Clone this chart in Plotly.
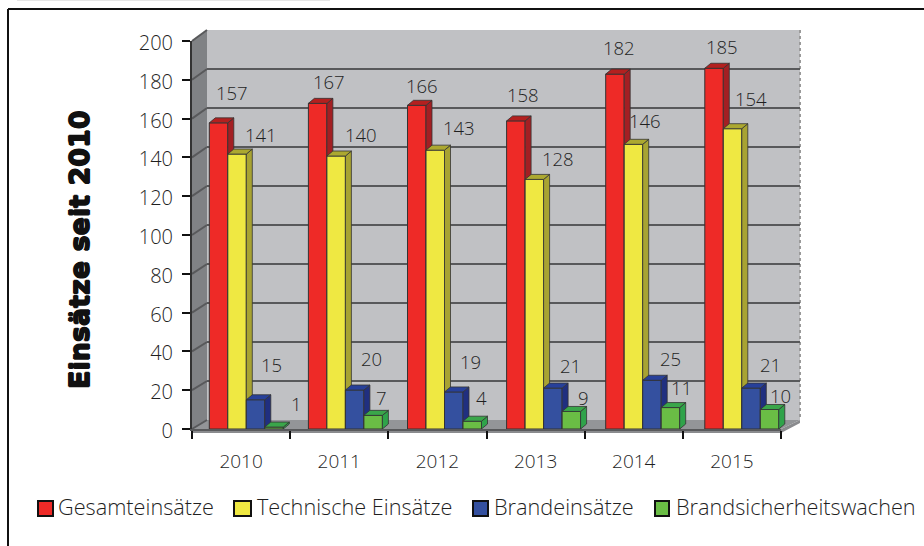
import plotly.graph_objects as go

YEARS = [2010, 2011, 2012, 2013, 2014, 2015]
SERIES = ["Gesamteinsätze", "Technische Einsätze", "Brandeinsätze", "Brandsicherheitswachen"]
GESAMT = [157, 167, 166, 158, 182, 185]
TECHNISCH = [141, 140, 143, 128, 146, 154]
BRAND = [15, 20, 19, 21, 25, 21]
WACHEN = [1, 7, 4, 9, 11, 10]
VALUES = [GESAMT, TECHNISCH, BRAND, WACHEN]
Y_TICKS = list(range(0, 201, 20))

W, H = 924, 546
FRONT = ["#ee2a27", "#efe842", "#34509f", "#6abd45"]
SIDE = ["#a31f23", "#a8a332", "#202f80", "#2fa34a"]
TOP = ["#b3201f", "#aca830", "#27409a", "#3aa64a"]
EDGE = "#333333"
TEXT = "#1f1f1f"
FONT = "Open Sans"
WEIGHT = 300

# label nudges (px right, px up) relative to the top centre of each bar
NUDGE = [
    [(13, 30), (11, 22), (5, 20), (7, 26), (4, 27), (8, 22)],
    [(24, 20), (25, 22), (24, 23), (24, 21), (12, 24), (18, 30)],
    [(16, 35), (17, 32), (17, 30), (18, 23), (19, 22), (19, 24)],
    [(22, 24), (8, 18), (9, 24), (12, 14), (11, 20), (11, 14)],
]
# legend layout: swatch left, swatch right, text left (px)
LEG = [(38, 53, 56), (234, 251, 255), (473, 488, 492), (655, 669, 674)]


def fx(p):
    return p / W


def fy(p):
    return 1 - p / H


# Pixel frames of the three planes
FRONT_X, FRONT_TOP, FRONT_BOTTOM, FRONT_RIGHT = 192, 41, 429, 781
BACK_X, BACK_TOP, BACK_BOTTOM, BACK_RIGHT = 207, 30, 420, 800
BAR_X0, BAR_X1, BAR_TOP, BAR_BOTTOM = 196.75, 791.35, 39, 429
BAR_W = 18.5 / 99.1
DX = 6 / 99.1
DY = 5 / 1.95

fig = go.Figure()

# Back wall subplot carrying the gridlines
fig.add_trace(go.Scatter(x=[], y=[], xaxis="x", yaxis="y", showlegend=False))

layout_axes = {
    "xaxis": dict(domain=[fx(BACK_X), fx(BACK_RIGHT)], range=[2009.5, 2015.5], visible=False, anchor="y", automargin=False),
    "yaxis": dict(domain=[fy(BACK_BOTTOM), fy(BACK_TOP)], range=[0, 200], anchor="x", tickvals=Y_TICKS,
                  showgrid=True, gridcolor="#58595b", gridwidth=2, showticklabels=False, ticks="",
                  zeroline=False, showline=False, automargin=False),
}

for i, vals in enumerate(VALUES):
    n = i + 2
    xa, ya = f"x{n}", f"y{n}"
    off = -2 * BAR_W + i * BAR_W
    fig.add_trace(go.Bar(x=YEARS, y=vals, width=BAR_W, offset=off, xaxis=xa, yaxis=ya, showlegend=False,
                         name=SERIES[i], marker=dict(color=FRONT[i], line=dict(color=EDGE, width=1))))
    sx, sy, tx, ty = [], [], [], []
    for yr, v in zip(YEARS, vals):
        l = yr + off
        r = l + BAR_W
        sx += [r, r + DX, r + DX, r, r, None]
        sy += [0, DY, v + DY, v, 0, None]
        tx += [l, l + DX, r + DX, r, l, None]
        ty += [v, v + DY, v + DY, v, v, None]
    for px_, py_, col in ((sx, sy, SIDE[i]), (tx, ty, TOP[i])):
        fig.add_trace(go.Scatter(x=px_, y=py_, mode="lines", fill="toself", fillcolor=col, xaxis=xa, yaxis=ya,
                                 line=dict(color=EDGE, width=0.8), showlegend=False, hoverinfo="skip",
                                 cliponaxis=False))
    layout_axes[f"xaxis{n}"] = dict(domain=[fx(BAR_X0), fx(BAR_X1)], range=[2009.5, 2015.5], visible=False, anchor=ya, automargin=False)
    layout_axes[f"yaxis{n}"] = dict(domain=[fy(BAR_BOTTOM), fy(BAR_TOP)], range=[0, 200], visible=False, anchor=xa, automargin=False)

# Front axes with ticks and labels
fig.add_trace(go.Scatter(x=[], y=[], xaxis="x6", yaxis="y6", showlegend=False))
layout_axes["xaxis6"] = dict(
    domain=[fx(FRONT_X), fx(FRONT_RIGHT)], range=[2009.5, 2015.5], anchor="y6", tick0=2010, dtick=1, tickformat="d",
    ticks="outside", ticklen=14, tickcolor="rgba(0,0,0,0)", tickwidth=1, showgrid=False, zeroline=False, automargin=False,
    showline=True, linecolor="#58595b", linewidth=2, tickfont=dict(family=FONT, size=19, color=TEXT, weight=WEIGHT),
    minor=dict(tick0=2009.5, dtick=1, ticks="outside", ticklen=8, tickwidth=2, tickcolor="#111111", showgrid=False),
)
layout_axes["yaxis6"] = dict(
    domain=[fy(FRONT_BOTTOM), fy(FRONT_TOP)], range=[0, 200], anchor="x6", tickvals=Y_TICKS, ticks="outside",
    ticklen=8, tickwidth=2, tickcolor="#111111", showgrid=False, zeroline=False, showline=True, automargin=False,
    linecolor="#333333", linewidth=2, ticklabelstandoff=5, ticklabelshift=2,
    tickfont=dict(family=FONT, size=20, color=TEXT, weight=WEIGHT),
)

# Static 3D box planes and frame
shapes = []


def poly(pts, fill, line=None, lw=0, layer="below"):
    path = "M" + " L".join(f"{fx(a):.5f},{fy(b):.5f}" for a, b in pts) + " Z"
    shapes.append(dict(type="path", path=path, xref="paper", yref="paper", fillcolor=fill, layer=layer,
                       line=dict(color=line or "rgba(0,0,0,0)", width=lw)))


def seg(a, b, c, d, color, width, dash="solid"):
    shapes.append(dict(type="line", x0=fx(a), y0=fy(b), x1=fx(c), y1=fy(d), xref="paper", yref="paper",
                       line=dict(color=color, width=width, dash=dash), layer="below"))


poly([(BACK_X, BACK_TOP), (BACK_RIGHT, BACK_TOP), (BACK_RIGHT, BACK_BOTTOM), (BACK_X, BACK_BOTTOM)], "#c0c1c4")
poly([(FRONT_X, FRONT_TOP), (BACK_X, BACK_TOP), (BACK_X, BACK_BOTTOM), (FRONT_X, FRONT_BOTTOM)], "#808285")
poly([(FRONT_X, FRONT_BOTTOM), (BACK_X, BACK_BOTTOM), (BACK_RIGHT, BACK_BOTTOM), (FRONT_RIGHT, FRONT_BOTTOM)], "#939598")
poly([(FRONT_X, FRONT_BOTTOM), (FRONT_RIGHT, FRONT_BOTTOM), (BACK_RIGHT, BACK_BOTTOM), (BACK_RIGHT, BACK_BOTTOM + 3),
      (FRONT_RIGHT, FRONT_BOTTOM + 4), (FRONT_X, FRONT_BOTTOM + 4)], "#8a8b8e")
for t in Y_TICKS:
    yf = FRONT_BOTTOM - (FRONT_BOTTOM - FRONT_TOP) * t / 200
    yb = BACK_BOTTOM - (BACK_BOTTOM - BACK_TOP) * t / 200
    seg(FRONT_X, yf, BACK_X, yb, "#58595b", 2)
seg(BACK_RIGHT, BACK_TOP, BACK_RIGHT, BACK_BOTTOM, "#9a9a9a", 2, "dot")
seg(8, 9, W + 2, 9, "#111111", 2)
seg(8, 9, 8, H + 2, "#111111", 2)
seg(17, 0.5, 330, 0.5, "#e6e6e6", 1)

annotations = []
for i, vals in enumerate(VALUES):
    xa, ya = f"x{i + 2}", f"y{i + 2}"
    for yr, v, (nx, ny) in zip(YEARS, vals, NUDGE[i]):
        annotations.append(dict(x=yr - 2 * BAR_W + (i + 0.5) * BAR_W, y=v, xref=xa, yref=ya, text=str(v),
                                showarrow=False, xshift=nx, yshift=ny, xanchor="center", yanchor="middle",
                                font=dict(family=FONT, size=18.5, color=TEXT, weight=WEIGHT)))

annotations.append(dict(x=fx(80), y=fy(250), xref="paper", yref="paper", text="<b>Einsätze seit 2010</b>",
                        textangle=-90, showarrow=False, xanchor="center", yanchor="middle",
                        font=dict(family="DejaVu Sans", size=27, color="#111111",
                                  shadow="0.7px 0 0 #111111, -0.7px 0 0 #111111, 0 0.7px 0 #111111, 0 -0.7px 0 #111111")))

for i, name in enumerate(SERIES):
    a, b, t = LEG[i]
    shapes.append(dict(type="rect", x0=fx(a), x1=fx(b), y0=fy(516), y1=fy(501), xref="paper", yref="paper",
                       fillcolor=FRONT[i], line=dict(color="#111111", width=2), layer="above"))
    annotations.append(dict(x=fx(t), y=fy(506), xref="paper", yref="paper", text=name, showarrow=False,
                            xanchor="left", yanchor="middle", font=dict(family=FONT, size=21.7, color=TEXT, weight=WEIGHT)))

fig.update_layout(
    template="none", width=W, height=H, margin=dict(l=0, r=0, t=0, b=0, pad=0), autosize=False,
    paper_bgcolor="white", plot_bgcolor="rgba(0,0,0,0)", showlegend=False,
    shapes=shapes, annotations=annotations, barmode="overlay", **layout_axes,
)
fig.write_html("out.html", config={"displayModeBar": False},
               post_script="document.body.style.margin='0';document.documentElement.style.overflow='hidden';")
